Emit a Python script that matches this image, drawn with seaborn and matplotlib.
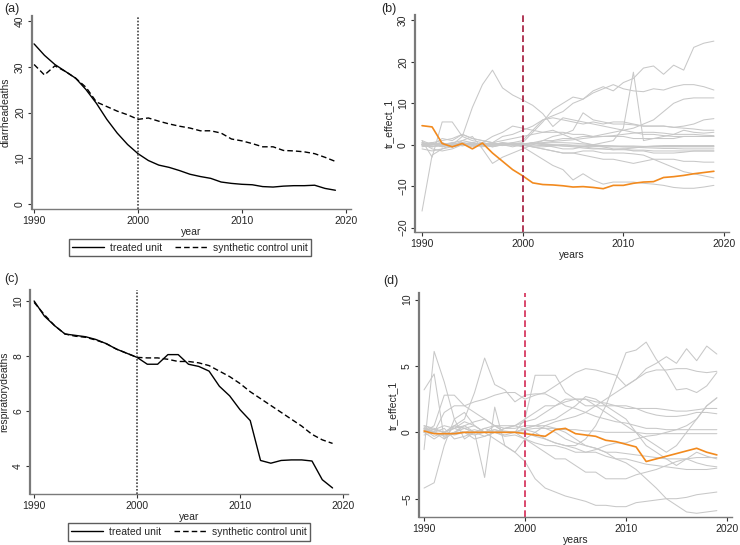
import numpy as np
import pandas as pd
import matplotlib
matplotlib.use("Agg")
import matplotlib.pyplot as plt
import seaborn as sns

# Years shared by all panels
years = list(range(1990, 2020))

# (a) diarrhea deaths
diar_treated = [35.0, 32.5, 30.5, 29.0, 27.5, 25.0, 22.0, 18.5, 15.5, 13.0,
                11.0, 9.5, 8.5, 8.0, 7.3, 6.5, 6.0, 5.6, 4.8, 4.5,
                4.3, 4.2, 3.8, 3.7, 3.9, 4.0, 4.0, 4.1, 3.4, 3.0]
diar_synth = [30.5, 28.2, 30.2, 29.0, 27.5, 25.5, 22.3, 21.3, 20.3, 19.5,
              18.5, 18.8, 18.1, 17.5, 17.0, 16.6, 16.0, 16.0, 15.5, 14.2,
              13.8, 13.2, 12.5, 12.5, 11.7, 11.6, 11.4, 11.0, 10.2, 9.3]

# (c) respiratory deaths
resp_treated = [10.0, 9.45, 9.1, 8.8, 8.75, 8.7, 8.6, 8.45, 8.25, 8.1,
                7.95, 7.7, 7.7, 8.05, 8.05, 7.7, 7.62, 7.45, 6.9, 6.55,
                6.05, 5.65, 4.2, 4.1, 4.2, 4.22, 4.22, 4.18, 3.5, 3.2]
resp_synth = [9.95, 9.5, 9.1, 8.8, 8.72, 8.68, 8.58, 8.45, 8.25, 8.1,
              7.95, 7.93, 7.93, 7.88, 7.8, 7.8, 7.75, 7.65, 7.45, 7.25,
              7.0, 6.7, 6.45, 6.2, 5.95, 5.7, 5.45, 5.15, 4.95, 4.82]

# (b) placebo effects, diarrhea
b_treated = [4.6, 4.3, 0.3, -0.5, 0.3, -1.0, 0.4, -2.0, -4.0, -6.0,
             -7.5, -9.2, -9.6, -9.7, -9.9, -10.2, -10.1, -10.3, -10.6, -9.8,
             -9.8, -9.3, -9.0, -8.9, -7.9, -7.7, -7.4, -7.0, -6.7, -6.4]
b_placebos = [
    [-16, -2.5, -1, 0, 2, 9, 14.5, 18, 13.7, 12,
     10.8, 9.5, 7.5, 4.4, 6.5, 6, 5.5, 5, 4.5, 4,
     3.5, 3, 2.5, 2.5, 2.2, 2, 2, 2, 2, 2],
    [0.5, 0.3, 0, -0.5, 0.5, 0, 0.3, 0, 0.5, 0.3,
     0.5, 3, 5.5, 8.5, 10, 11.5, 11, 13, 14, 13,
     15, 16, 18.5, 19, 17, 19.2, 18, 23.5, 24.5, 25],
    [0, 0.5, -0.5, 0.5, 1, 0.5, 0, 0.5, 0, 0.5,
     1, 3.5, 6, 7, 8, 10, 11, 12.5, 13.5, 14.5,
     13.5, 13, 12.8, 13.5, 13.2, 14, 14.5, 14.5, 14, 13.2],
    [0.5, 0, 0.5, -0.5, 0, 0.5, 0, -0.5, 0, 0,
     0, 0.5, 0, -0.5, -1, -1, -0.5, 0, 0.5, 1,
     4, 17.5, 1, 1.5, 2, 2.5, 3.5, 3, 2.8, 3],
    [0, -0.5, 0, 0.5, 0, 0, 0.5, 0, 0, 0.5,
     0, 0.5, 1, 1, 1.5, 1.5, 2, 2, 2.5, 3,
     3.5, 4, 5, 6, 8, 10, 11, 11.3, 11.3, 11.3],
    [1, 0, 1.5, 1, 2.5, 1.5, 1, 0.5, 2, 2.5,
     3.5, 4.5, 6, 6.5, 6, 5.5, 5, 5.5, 5, 5.5,
     5.5, 5, 4.5, 4.5, 4.5, 4.2, 4.5, 5, 6, 6.3],
    [0, 0.5, -0.5, 0, 0.5, 0, -0.5, 0, 0.5, 0,
     -0.5, -2, -3.5, -5, -6, -8.5, -7, -8.5, -9.5, -9,
     -9, -9, -9.3, -9.5, -9.8, -10.3, -10.5, -10.5, -10.2, -9.8],
    [-0.5, 0, 0.5, -0.5, 0, 0, 0.5, 0, 0, -0.5,
     0, -0.5, -1, -1.5, -2, -2, -1.5, -1.5, -2, -2,
     -2, -2.2, -2.5, -3.5, -4.5, -5.5, -6.5, -7, -7.5, -8],
    [0.5, -1, -1.5, -1, 0, 0.5, 0, -0.5, 0, 0,
     0, -0.5, -1, -1.5, -2, -2, -2.5, -3, -3.5, -3.5,
     -4, -4.5, -4, -3.5, -3.5, -3.5, -4, -4, -4.2, -4.2],
    [1, -3, 5.5, 5.5, 2, 1, 0.5, 2, 3, 4.5,
     4, 3.5, 3, 3, 3, 2.5, 2.5, 2, 2, 2,
     2, 1.5, 1.5, 1.5, 1.5, 1.5, 2, 2, 2, 2],
    [-1, -1.5, -1, -0.5, 1, 2, -1, -4.5, -3, -2,
     -1, 0, 1, 2, 2.5, 3.5, 7.7, 6, 5.5, 5,
     5, 4.8, 4.5, 4.5, 4.5, 4.2, 4, 3.8, 3.5, 3.5],
    [0, 0.5, 1, 1.5, 2.5, 1.5, 1, 0.5, 1, 1.5,
     2, 2.5, 3, 3.5, 2.5, 1.5, 0.5, 0, -0.5, -1,
     -1, -1.5, -1.5, -2, -2, -2, -1.8, -1.5, -1.5, -1.5],
    [0.3, 0.2, 0, -0.2, 0, 0.2, 0.1, -0.1, 0, 0.1,
     0, -0.1, -0.2, -0.2, -0.3, -0.3, -0.4, -0.4, -0.5, -0.5,
     -0.5, -0.5, -0.5, -0.5, -0.5, -0.5, -0.5, -0.5, -0.5, -0.5],
    [-0.3, -0.5, 0, 0.3, 0.5, 0, -0.3, 0.2, 0.3, 0,
     0.2, 0.5, 0.3, 0, -0.3, -0.5, -0.8, -1, -1, -1.2,
     -1.2, -1.3, -1.3, -1.5, -1.5, -1.5, -1.5, -1.5, -1.5, -1.5],
    [0.2, 0, -0.3, 0, 0.3, 0.5, 0, 0, -0.2, 0.1,
     0, 0.3, 0.5, 0.8, 1, 1.2, 1.5, 1.8, 2, 2.2,
     2.5, 2.8, 3, 3, 2.8, 2.5, 2.5, 2.5, 2.3, 2.2],
    [0, 0.2, 0.5, -0.5, 0, -0.5, 0, 0.5, 0, 0,
     -0.2, -0.5, -0.5, -0.3, 0, -0.2, -0.5, -0.8, -1, -1.2,
     -1, -0.8, -0.5, -0.3, -0.2, -0.2, -0.2, -0.2, -0.2, -0.2],
    [-0.2, 0.3, 0.2, 0.4, -0.3, 0.2, -0.2, 0.3, 0.2, -0.1,
     0.1, 0.2, 0.1, 0, 0, -0.1, -0.1, -0.2, -0.2, -0.3,
     -0.3, -0.3, -0.4, -0.4, -0.4, -0.4, -0.4, -0.4, -0.4, -0.4],
    [0.1, -0.3, -0.4, 0.2, 0.3, -0.2, 0.2, -0.3, 0.1, 0.2,
     0.3, 0.2, 0.4, 0.5, 0.5, 0.4, 0.2, 0, -0.2, -0.3,
     -0.5, -0.6, -0.7, -0.8, -0.9, -0.9, -1, -1, -1, -1],
]

# (d) placebo effects, respiratory
d_treated = [0.1, -0.1, -0.1, -0.1, 0.0, 0.0, 0.0, 0.0, 0.0, 0.0,
             -0.1, -0.2, -0.3, 0.2, 0.3, -0.1, -0.2, -0.3, -0.6, -0.7,
             -0.9, -1.1, -2.2, -2.0, -1.8, -1.6, -1.4, -1.2, -1.5, -1.7]
d_placebos = [
    [-1.3, 6.1, 3.8, 1, -0.5, 0, 0.3, 0.5, 0.5, 0.5,
     1, 1.5, 2, 2, 2.5, 2.5, 2, 2, 2, 2,
     2, 1.8, 1.5, 1.3, 1.2, 1.2, 1.3, 1.5, 1.5, 1.4],
    [3.2, 4.4, -0.5, 0, 0.3, 0.5, 0, 0.2, 0, 0,
     0.3, 0.5, 0.5, 0.8, 1, 1.2, 1.5, 2, 2.5, 3,
     3.5, 4, 4.8, 5.2, 5.7, 5.2, 6.3, 5.4, 6.5, 5.9],
    [-4.2, -3.8, -1, 1, 1.5, 0.5, 0, 0.5, 0, 0,
     -0.5, -1, -1.5, -2, -2, -2.5, -3, -3, -3.5, -3.5,
     -3.5, -3.2, -3, -2.8, -2.5, -2.2, -2, -2.3, -2.5, -2.6],
    [0.3, 0, -0.5, 0.5, 1, 3, 5.6, 3.6, 3.2, 2.3,
     2.8, 2.9, 2.9, 2.5, 2.0, 1.8, 1.5, 1.2, 1.0, 0.8,
     0.7, 0.5, 0.3, 0.3, 0.2, 0.2, 0.2, 0.2, 0.2, 0.2],
    [0.2, -0.3, 0, 0.3, 0.5, 0, -3.4, 1.9, -1, -1.5,
     -2.2, -3.5, -4.2, -4.5, -4.8, -5, -5.2, -5.5, -5.5, -5.6,
     -5.6, -5.3, -5.2, -5.1, -5.0, -5.0, -4.9, -4.7, -4.6, -4.5],
    [0.5, 0.3, 0, 0.5, 0.3, 0, -0.3, 0, 0.3, 0.5,
     0.2, 0, -0.5, -0.8, -1, -1, -0.5, 0.5, 2, 4,
     6, 6.2, 6.8, 5.5, 4.5, 3.2, 3.3, 3.0, 3.5, 4.5],
    [0, 0.5, 2.8, 2.8, 2, 1.5, 1, 0.5, 0, 0,
     1, 4.3, 4.3, 4.3, 3, 2.5, 2.5, 2, 1.5, 1,
     0.5, 0, -0.5, -1, -1.5, -1, 0, 1, 2, 2.6],
    [0.3, 0, 1.5, 2, 2, 2.3, 2.5, 2.8, 3, 3,
     2.5, 2.8, 3, 3.5, 4, 4.5, 4.8, 4.7, 4.5, 4.3,
     3.5, 4, 4.5, 4.7, 4.7, 4.8, 4.8, 4.6, 4.5, 4.6],
    [0, -0.5, 0, 0.5, 0.3, 0, 0, -0.5, -1, -1.5,
     -0.5, 0, 0.5, 0.3, 0, -0.5, -1, -1.2, -1.5, -2,
     -2.3, -2.8, -3.5, -4.2, -5, -5.5, -6, -6.1, -6, -5.9],
    [0.5, 0.2, 0, 0.3, 0.8, 0.5, 0, 0, -0.2, 0,
     0, -0.3, -0.5, -0.8, -1, -1.2, -1.5, -1.5, -1.8, -2,
     -2, -2.2, -2.4, -2.5, -2.6, -2.7, -2.8, -2.8, -2.8, -2.7],
    [0.2, 0, -0.3, 0, 0, -0.2, 0, 0.2, 0, 0,
     0.3, 0.5, 0.8, 1, 1.5, 2, 2.7, 2.5, 2, 1.5,
     1, 0, -1, -1.5, -2, -2.5, -2, -1.5, -1.8, -2],
    [0.3, 0.2, 0, -0.2, 0, 0.2, 0, 0, 0.1, 0,
     0.2, 0.3, 0.3, 0.3, 0.2, 0.2, 0.1, 0.1, 0, 0,
     0, 0, -0.1, -0.1, -0.1, -0.1, -0.1, -0.1, -0.1, -0.1],
    [-0.2, 0, 0.3, -0.5, -0.3, 0, 0.3, 0, -0.3, -0.2,
     -0.5, -0.8, -1, -1, -1.2, -1.5, -1.5, -1.3, -1, -0.8,
     -0.8, -0.5, -0.3, -0.2, 0, 0.2, 0.5, 1, 2, 2.6],
    [0.4, 0, -0.2, 0, 0.5, 0.8, 1, 0.5, 0.3, 0.5,
     0.8, 1, 1.5, 2, 2.3, 2.5, 2.5, 2.3, 2.2, 2,
     1.8, 1.8, 1.8, 1.8, 1.7, 1.6, 1.6, 1.7, 1.8, 1.8],
    [0, 0.2, 0.5, 0.3, 0, -0.5, -0.3, 0, 0.3, 0.3,
     0.5, 0.5, 0.3, 0, -0.5, -0.8, -1, -1.2, -1.5, -1.5,
     -1.6, -1.7, -1.8, -1.9, -2, -2, -2, -1.9, -1.9, -1.9],
]

TREAT_YEAR = 2000
GRAY = "#c8c8c8"
ORANGE = "#f28a1e"
SPINE = "#7a7a7a"

sns.set_style("white")
plt.rcParams["font.family"] = ["Liberation Sans", "DejaVu Sans"]


def style_axes(ax, yticks, xlabel, ylabel, xlim, ylim):
    """Stata-like look: only left and bottom axis, rotated y labels."""
    for side in ["top", "right"]:
        ax.spines[side].set_visible(False)
    for side in ["left", "bottom"]:
        ax.spines[side].set_color(SPINE)
        ax.spines[side].set_linewidth(1.0)
    ax.spines["left"].set_linewidth(1.6)
    ax.set_xlim(*xlim)
    ax.set_ylim(*ylim)
    ax.set_xticks([1990, 2000, 2010, 2020])
    ax.set_yticks(yticks)
    ax.tick_params(axis="both", direction="out", length=3, width=0.8,
                   color="#333333", labelsize=7.5, pad=2, left=True, bottom=True)
    ax.tick_params(axis="y", labelrotation=90)
    for lab in ax.get_yticklabels():
        lab.set_va("center")
    ax.set_xlabel(xlabel, fontsize=7.5, labelpad=1)
    ax.set_ylabel(ylabel, fontsize=7.5, labelpad=3)
    ax.grid(False)


def outcome_panel(ax, treated, synth, ylabel, yticks, xlim, ylim, legend_xy):
    df = pd.DataFrame({"year": years, "treated": treated, "synth": synth})
    sns.lineplot(data=df, x="year", y="treated", ax=ax, color="black",
                 linewidth=1.0, label="treated unit")
    sns.lineplot(data=df, x="year", y="synth", ax=ax, color="black",
                 linewidth=1.0, dashes=False, label="synthetic control unit")
    ax.lines[1].set_dashes((4, 2.2))
    ax.axvline(TREAT_YEAR, color="#444444", linestyle=(0, (1, 1)), linewidth=1.2)
    style_axes(ax, yticks, "year", ylabel, xlim, ylim)
    ax.get_legend().remove()
    h, l = ax.get_legend_handles_labels()
    fig.legend(h, l, loc="center", bbox_to_anchor=legend_xy, ncol=2,
               fontsize=7.5, frameon=True, fancybox=False, edgecolor="#333333",
               handlelength=3.0, columnspacing=1.3, borderpad=0.35,
               handletextpad=0.6)


def placebo_panel(ax, placebos, treated, yticks, xlim, ylim, vcolor):
    rows = []
    for i, series in enumerate(placebos):
        for yr, v in zip(years, series):
            rows.append({"unit": i, "year": yr, "effect": v})
    long_df = pd.DataFrame(rows)
    sns.lineplot(data=long_df, x="year", y="effect", units="unit",
                 estimator=None, color=GRAY, linewidth=0.75, ax=ax)
    tdf = pd.DataFrame({"year": years, "effect": treated})
    sns.lineplot(data=tdf, x="year", y="effect", color=ORANGE,
                 linewidth=1.2, ax=ax)
    ax.axvline(TREAT_YEAR, color=vcolor, linestyle=(0, (4, 2)), linewidth=1.2)
    style_axes(ax, yticks, "years", "tr_effect_1", xlim, ylim)


fig = plt.figure(figsize=(7.4, 5.45), dpi=100)
W, H = 740, 545


def add_ax(x0, y0, x1, y1):
    return fig.add_axes([x0 / W, 1 - y1 / H, (x1 - x0) / W, (y1 - y0) / H])


ax_a = add_ax(32, 16, 351, 209)
ax_b = add_ax(415, 15, 729, 232)
ax_c = add_ax(30, 290, 348, 494)
ax_d = add_ax(419, 293, 732, 517)

outcome_panel(ax_a, diar_treated, diar_synth, "diarrheadeaths",
              [0, 10, 20, 30, 40], (1989.8, 2020.5), (-1.1, 41.1),
              (190 / W, 1 - 247.5 / H))
outcome_panel(ax_c, resp_treated, resp_synth, "respiratorydeaths",
              [4, 6, 8, 10], (1989.6, 2020.5), (2.98, 10.4),
              (189 / W, 1 - 532 / H))
placebo_panel(ax_b, b_placebos, b_treated, [-20, -10, 0, 10, 20, 30],
              (1989.3, 2020.5), (-21.05, 31.3), "#a3163a")
placebo_panel(ax_d, d_placebos, d_treated, [-5, 0, 5, 10],
              (1989.5, 2020.5), (-6.38, 10.5), "#d42a55")

for lbl, (x, y) in {"(a)": (4, 9), "(b)": (381, 9),
                    "(c)": (4, 279), "(d)": (383, 281)}.items():
    fig.text(x / W, 1 - y / H, lbl, fontsize=9, va="center", ha="left")

fig.savefig("out.png", dpi=100)
